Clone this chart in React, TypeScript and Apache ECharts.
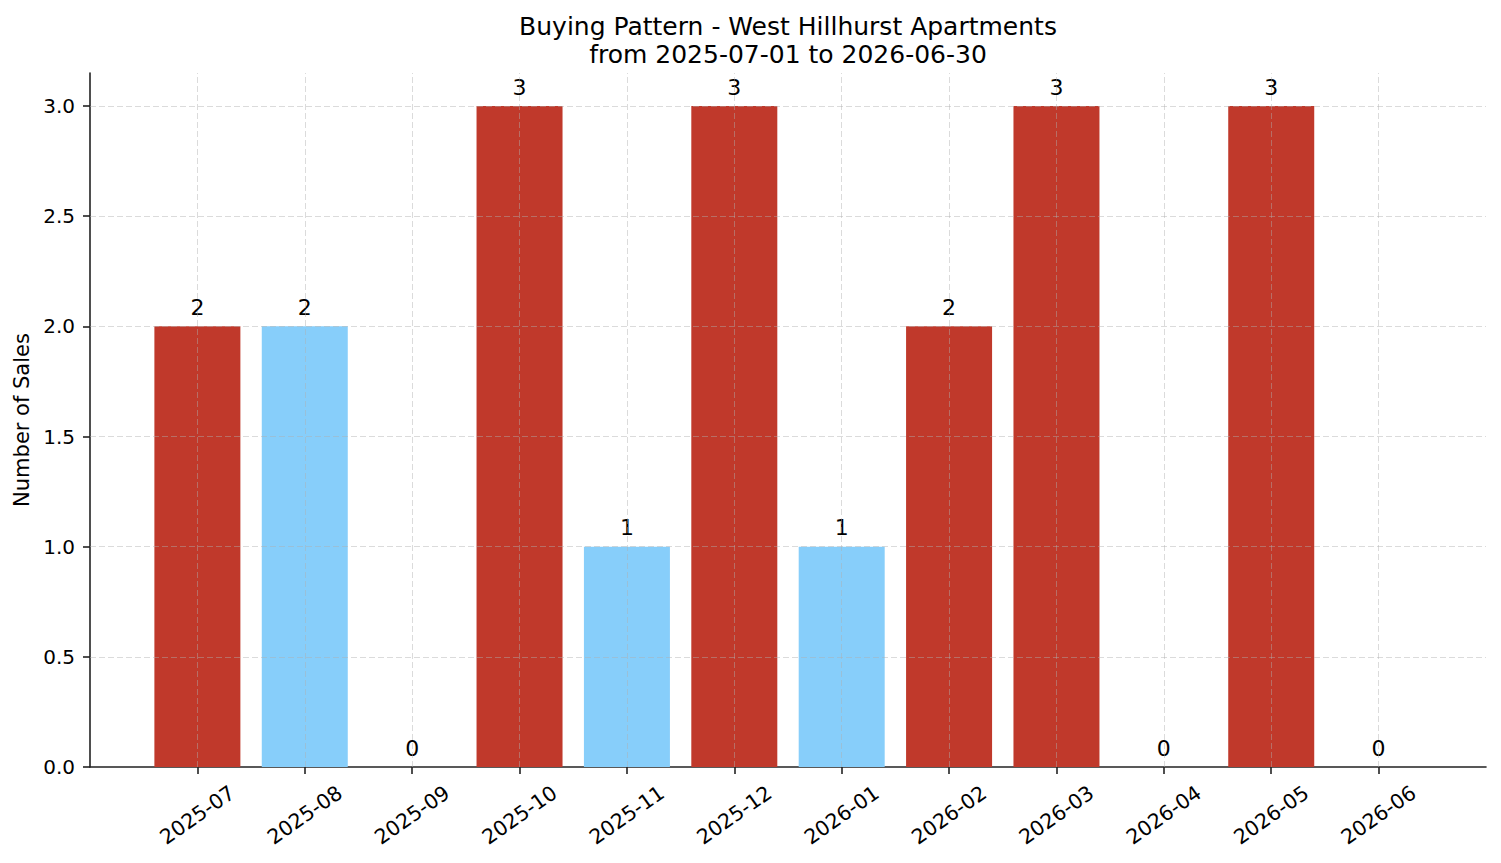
import React, { useEffect, useRef } from "react";
import * as echarts from "echarts";

const months = [
  "2025-07", "2025-08", "2025-09", "2025-10", "2025-11", "2025-12",
  "2026-01", "2026-02", "2026-03", "2026-04", "2026-05", "2026-06",
];
const sales = [2, 2, 0, 3, 1, 3, 1, 2, 3, 0, 3, 0];
const lightMonths = ["2025-08", "2025-11", "2026-01"];
const yTicks = [0, 0.5, 1.0, 1.5, 2.0, 2.5, 3.0];
const titleLines = ["Buying Pattern - West Hillhurst Apartments", "from 2025-07-01 to 2026-06-30"];

const FONT = "DejaVu Sans";
const RED = "#c0392b";
const BLUE = "#87cefa";

export default function App() {
  const ref = useRef<HTMLDivElement>(null);
  useEffect(() => {
    if (!ref.current) return;
    const chart = echarts.init(ref.current, null, { renderer: "svg" });
    const idx = months.map((_, i) => i);
    const gridLine = {
      color: "#b0b0b0",
      opacity: 0.45,
      type: [6, 3] as any,
      width: 1,
    };
    chart.setOption({
      animation: false,
      backgroundColor: "#ffffff",
      textStyle: { fontFamily: FONT },
      title: {
        text: titleLines.join("\n"),
        left: 783,
        textAlign: "center",
        top: 7,
        textStyle: {
          fontFamily: FONT,
          fontSize: 25,
          fontWeight: "normal",
          color: "#000",
          lineHeight: 28,
        },
      },
      grid: { left: 90, top: 73, width: 1396, height: 694, containLabel: false },
      xAxis: {
        type: "value",
        min: -1,
        max: 12,
        interval: 1,
        splitLine: { show: false },
        axisLine: { show: true, onZero: false, lineStyle: { color: "#222", width: 1.6 } },
        axisTick: {
          show: true,
          customValues: idx,
          length: 7,
          lineStyle: { color: "#222", width: 1.6 },
        },
        axisLabel: {
          customValues: idx,
          formatter: (v: number) => months[Math.round(v)] ?? "",
          rotate: 35,
          align: "center",
          verticalAlign: "middle",
          margin: 48,
          fontFamily: FONT,
          fontSize: 20.5,
          color: "#000",
        },
      },
      yAxis: {
        type: "value",
        min: 0,
        max: 3.15,
        interval: 0.5,
        name: "Number of Sales",
        nameLocation: "middle",
        nameGap: 58,
        nameTextStyle: { fontFamily: FONT, fontSize: 21, color: "#000" },
        splitLine: { show: false },
        axisLine: { show: true, onZero: false, lineStyle: { color: "#222", width: 1.6 } },
        axisTick: {
          show: true,
          customValues: yTicks,
          length: 7,
          lineStyle: { color: "#222", width: 1.6 },
        },
        axisLabel: {
          customValues: yTicks,
          formatter: (v: number) => v.toFixed(1),
          margin: 15,
          fontFamily: FONT,
          fontSize: 20,
          color: "#000",
        },
      },
      series: [
        {
          type: "bar",
          barWidth: 86,
          z: 2,
          data: sales.map((v, i) => ({
            value: [i, v],
            itemStyle: { color: lightMonths.includes(months[i]) ? BLUE : RED },
          })),
          label: {
            show: true,
            position: "top",
            distance: 8,
            formatter: (p: any) => String(p.value[1]),
            fontFamily: FONT,
            fontSize: 22,
            color: "#000",
          },
          markLine: {
            silent: true,
            symbol: ["none", "none"],
            z: 3,
            label: { show: false },
            lineStyle: gridLine,
            emphasis: { disabled: true },
            data: [
              ...idx.map((i) => ({ xAxis: i })),
              ...yTicks.filter((v) => v > 0).map((v) => ({ yAxis: v })),
            ],
          },
        },
      ],
    });
    return () => chart.dispose();
  }, []);
  return (
    <div
      ref={ref}
      style={{ position: "fixed", left: 0, top: 0, width: 1501, height: 863 }}
    />
  );
}
